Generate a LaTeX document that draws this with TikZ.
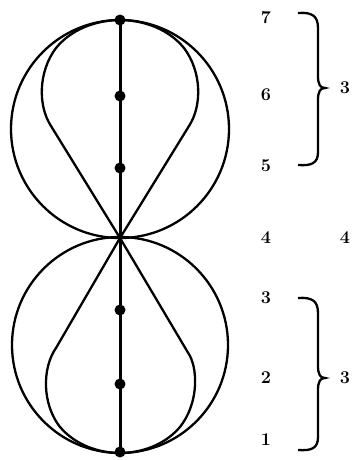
\documentclass[tikz,border=0pt]{standalone}
\usepackage{fontspec}
\usetikzlibrary{positioning}

\begin{document}
\begin{tikzpicture}[x=1pt, y=-1pt, line width=2.3pt,
  dot/.style={circle, fill=black, inner sep=0pt, minimum size=11pt},
  num/.style={font=\fontsize{18}{20}\selectfont\bfseries, inner sep=0pt}]
\useasboundingbox (0,0) rectangle (353,460);

% outer circles
\draw (120,129) circle (109pt);
\draw (120,345) circle (108pt);

% inner lobes
\coordinate (O) at (120,238);
\draw (O) -- (51,126) .. controls (38,106) and (38,72) .. (56,48)
  .. controls (74,26) and (102,20) .. (120,20)
  .. controls (138,20) and (166,26) .. (184,48)
  .. controls (202,72) and (202,106) .. (189,126) -- (O);
\draw (O) -- (56,348) .. controls (42,368) and (42,404) .. (60,427)
  .. controls (78,448) and (104,453) .. (120,453)
  .. controls (136,453) and (162,448) .. (180,427)
  .. controls (198,404) and (198,372) .. (190,356) -- (O);

% dots on the axis
\node[dot] (d7) at (120,20) {};
\node[dot] (d6) at (120,96) {};
\node[dot] (d5) at (120,168) {};
\node[dot] (d3) at (120,310) {};
\node[dot] (d2) at (120,384) {};
\node[dot] (d1) at (120,452) {};
\draw[line width=3pt] (d7.center) -- (d1.center);

% numbers
\node[num] (n7) at (266,18) {7};
\node[num] (n6) at (266,95) {6};
\node[num] (n5) at (266,166) {5};
\node[num] (n4) at (266,238) {4};
\node[num] (n3) at (266,298) {3};
\node[num] (n2) at (266,378) {2};
\node[num] (n1) at (266,440) {1};

% braces
\draw (298,13) .. controls (312,12) and (318,16) .. (318,28) -- (318,76)
  .. controls (318,84) and (320,88) .. (325,88)
  .. controls (320,88) and (318,92) .. (318,100) -- (318,152)
  .. controls (318,163) and (312,166) .. (298,165);
\draw (298,298) .. controls (312,297) and (318,301) .. (318,313) -- (318,366)
  .. controls (318,374) and (320,378) .. (325,378)
  .. controls (320,378) and (318,382) .. (318,390) -- (318,437)
  .. controls (318,448) and (312,451) .. (298,450);
\node[num] (s7) at (345,88) {3};
\node[num] (s4) at (345,238) {4};
\node[num] (s1) at (345,378) {3};

\end{tikzpicture}
\end{document}
